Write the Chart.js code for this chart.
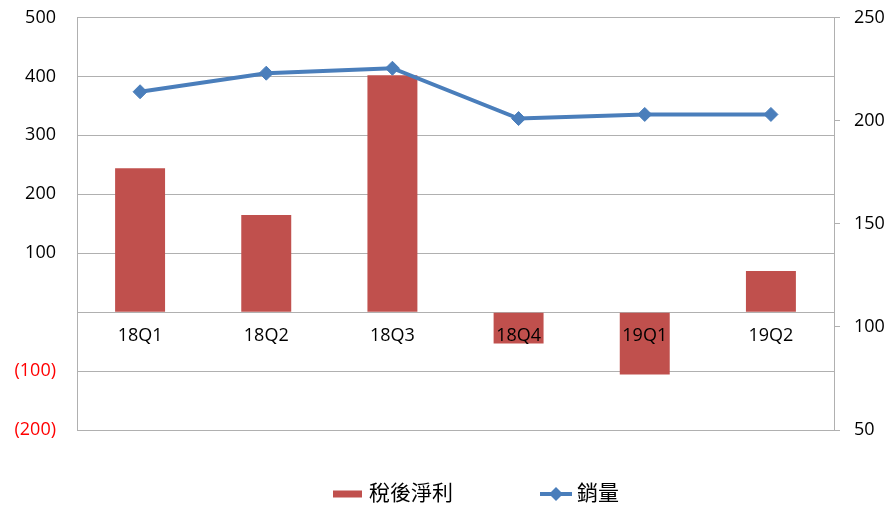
<!DOCTYPE html>
<html>
<head>
<meta charset="utf-8">
<script src="https://cdn.jsdelivr.net/npm/chart.js@4/dist/chart.umd.min.js"></script>
<style>
  body { margin: 0; background: #fff; }
  #wrap { width: 893px; height: 507px; }
</style>
</head>
<body>
<div id="wrap"><canvas id="chart" width="893" height="507"></canvas></div>
<script>
// data
const quarters = ["18Q1", "18Q2", "18Q3", "18Q4", "19Q1", "19Q2"];
const netProfit = [244, 165, 402, -53, -106, 70];   // 稅後淨利, left axis
const sales = [214, 223, 225.4, 201, 203, 203];     // 銷量, right axis
const leftTicks = [500, 400, 300, 200, 100, 0, -100, -200];
const rightTicks = [250, 200, 150, 100, 50];

const red = '#c0504d';
const blue = '#4a7ebb';
const gridColor = '#b0b0b0';
const labelFont = { family: "'Open Sans', 'Noto Sans', sans-serif", size: 18 };
const legendFont = "21px 'Noto Sans CJK TC', sans-serif";

// legend drawn by hand, the built in one can't space the two items like Excel does
const legendKeys = {
  id: 'legendKeys',
  afterDraw(chart) {
    const c = chart.ctx;
    const sets = chart.data.datasets;
    const y = 494;
    c.save();
    c.font = legendFont;
    c.textBaseline = 'middle';

    // bar key
    c.fillStyle = sets[0].backgroundColor;
    c.fillRect(333, y - 3.5, 29, 7);
    c.fillStyle = '#000';
    c.fillText(sets[0].label, 369, y - 2);

    // line key
    c.strokeStyle = sets[1].borderColor;
    c.lineWidth = 4;
    c.beginPath();
    c.moveTo(540, y);
    c.lineTo(572, y);
    c.stroke();
    c.fillStyle = sets[1].borderColor;
    c.beginPath();
    c.moveTo(556 - 7, y);
    c.lineTo(556, y - 7);
    c.lineTo(556 + 7, y);
    c.lineTo(556, y + 7);
    c.closePath();
    c.fill();
    c.fillStyle = '#000';
    c.fillText(sets[1].label, 577, y - 2);
    c.restore();
  },
};

const ctx = document.getElementById('chart');

new Chart(ctx, {
  type: 'bar',
  data: {
    labels: quarters,
    datasets: [
      {
        type: 'bar',
        label: '稅後淨利',
        data: netProfit,
        backgroundColor: red,
        yAxisID: 'y',
        barPercentage: 1,
        categoryPercentage: 0.396,
        order: 1,
      },
      {
        type: 'line',
        label: '銷量',
        data: sales,
        borderColor: blue,
        backgroundColor: blue,
        borderWidth: 4,
        pointStyle: 'rectRot',
        pointRadius: 7,
        pointBorderWidth: 1,
        tension: 0,
        yAxisID: 'y1',
        order: 0,
      },
    ],
  },
  plugins: [legendKeys],
  options: {
    responsive: false,
    animation: false,
    layout: {
      padding: { top: 17.5, left: 0, right: 0, bottom: 77 },
    },
    scales: {
      x: {
        position: { y: 0 },
        offset: true,
        grid: { display: false, drawTicks: false },
        border: { display: false },
        ticks: {
          z: 1,
          color: '#000',
          font: labelFont,
          padding: 13,
          maxRotation: 0,
        },
      },
      y: {
        position: 'left',
        min: -200,
        max: 500,
        afterBuildTicks: (axis) => {
          axis.ticks = leftTicks.map((v) => ({ value: v }));
        },
        afterFit: (axis) => {
          axis.width = 77;
          axis.paddingTop = 0;
          axis.paddingBottom = 0;
        },
        grid: { color: gridColor, drawTicks: false, lineWidth: 1 },
        border: { display: true, color: gridColor },
        ticks: {
          font: labelFont,
          padding: 21,
          color: (c) => (c.tick && c.tick.value < 0 ? '#ff0000' : '#000'),
          callback: function(value) {
            if (value === 0) {
              return '';
            }
            if (value < 0) {
              return '(' + (-value) + ')';
            }
            return value;
          },
        },
      },
      y1: {
        position: 'right',
        min: 50,
        max: 250,
        afterBuildTicks: (axis) => {
          axis.ticks = rightTicks.map((v) => ({ value: v }));
        },
        afterFit: (axis) => {
          axis.width = 59;
          axis.paddingTop = 0;
          axis.paddingBottom = 0;
        },
        grid: {
          drawOnChartArea: false,
          drawTicks: true,
          tickLength: 6,
          color: gridColor,
        },
        border: { display: true, color: gridColor },
        ticks: {
          font: labelFont,
          color: '#000',
          padding: 14,
        },
      },
    },
    plugins: {
      tooltip: { enabled: false },
      legend: { display: false },
    },
  },
});
</script>
</body>
</html>
